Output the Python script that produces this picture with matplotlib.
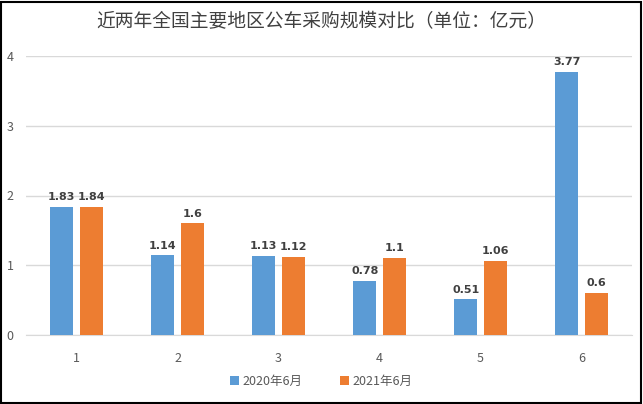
import matplotlib.pyplot as plt
import numpy as np

plt.rcParams['font.family'] = ['Noto Sans CJK SC', 'DejaVu Sans']

categories = ['1', '2', '3', '4', '5', '6']
jun_2020 = [1.83, 1.14, 1.13, 0.78, 0.51, 3.77]
jun_2021 = [1.84, 1.6, 1.12, 1.1, 1.06, 0.6]
series_names = ['2020年6月', '2021年6月']
colors = ['#5B9BD5', '#ED7D31']

fig = plt.figure(figsize=(6.43, 4.04), dpi=100)
ax = fig.add_axes([26 / 643, 69 / 404, 606 / 643, 279 / 404])

x = np.arange(len(categories))
w = 0.23
gap = 0.06
for vals, off, c, name in [(jun_2020, -(w + gap) / 2, colors[0], series_names[0]),
                           (jun_2021, (w + gap) / 2, colors[1], series_names[1])]:
    bars = ax.bar(x + off, vals, width=w, color=c, label=name, zorder=3)
    for b, v in zip(bars, vals):
        ax.text(b.get_x() + b.get_width() / 2, v + 0.07, f'{v:g}',
                ha='center', va='bottom', fontsize=8, fontweight='bold',
                color='#404040', family='DejaVu Sans')

ax.set_xlim(-0.5, len(categories) - 0.5)
ax.set_ylim(0, 4)
ax.set_yticks([0, 1, 2, 3, 4])
ax.set_xticks(x)
ax.set_xticklabels(categories)
ax.yaxis.grid(True, color='#D9D9D9', linewidth=1, zorder=0)
for s in ['top', 'right', 'left']:
    ax.spines[s].set_visible(False)
ax.spines['bottom'].set_color('#D9D9D9')
ax.tick_params(axis='both', length=0, colors='#595959', labelsize=9)
ax.tick_params(axis='x', pad=12)
ax.tick_params(axis='y', pad=9)

fig.text(0.5, 1 - 22 / 404, '近两年全国主要地区公车采购规模对比（单位：亿元）',
         ha='center', va='center', fontsize=13.5, color='#404040')

fig.legend(loc='center', bbox_to_anchor=(0.5, 1 - 381 / 404), ncol=2,
           frameon=False, fontsize=9, handlelength=0.7, handleheight=0.7,
           columnspacing=3, labelcolor='#595959', handletextpad=0.3)

fig.patches.append(plt.Rectangle((0.002, 0.003), 0.995, 0.993, transform=fig.transFigure,
                                 fill=False, edgecolor='black', linewidth=1.5))

fig.savefig('out.png', dpi=100)
